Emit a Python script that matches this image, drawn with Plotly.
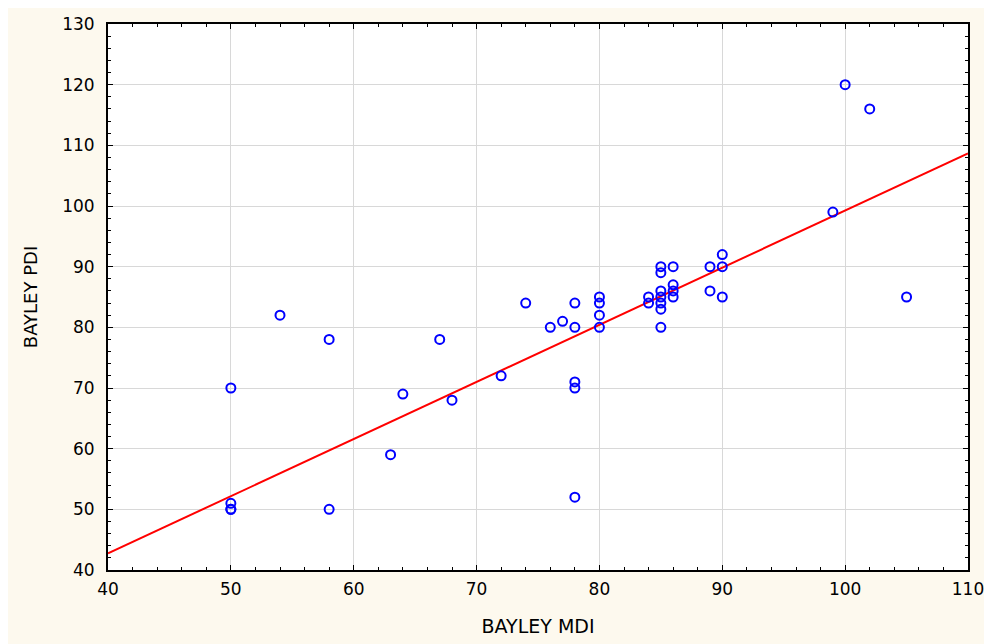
import plotly.graph_objects as go

# Data (BAYLEY MDI vs BAYLEY PDI)
mdi = [50, 50, 50, 50, 54, 58, 58, 63, 64, 67, 68, 72, 74, 76, 77,
       78, 78, 78, 78, 78, 80, 80, 80, 80, 84, 84,
       85, 85, 85, 85, 85, 85, 85, 86, 86, 86, 86, 89, 89,
       90, 90, 90, 99, 100, 102, 105]
pdi = [70, 51, 50, 50, 82, 78, 50, 59, 69, 78, 68, 72, 84, 80, 81,
       84, 80, 71, 70, 52, 85, 84, 82, 80, 85, 84,
       90, 89, 86, 85, 84, 83, 80, 90, 87, 86, 85, 90, 86,
       92, 90, 85, 99, 120, 116, 85]

# Regression line coefficients
fit_intercept = 5.08
fit_slope = 0.9417
fit_x = [40, 110]
fit_y = [fit_intercept + fit_slope * v for v in fit_x]

x_range = [40, 110]
y_range = [40, 130]

cream = "#FDF9EE"

fig = go.Figure()
fig.add_trace(go.Scatter(
    x=fit_x, y=fit_y, mode="lines",
    line=dict(color="#FF0000", width=2),
    showlegend=False, hoverinfo="skip"))
fig.add_trace(go.Scatter(
    x=mdi, y=pdi, mode="markers",
    marker=dict(symbol="circle-open", size=9, color="#0000FF",
                line=dict(width=2, color="#0000FF")),
    showlegend=False))

axis_common = dict(
    showline=True, linecolor="black", linewidth=2, mirror="allticks",
    ticks="inside", ticklen=5, tickwidth=1, tickcolor="black",
    showgrid=True, gridcolor="#D8D8D8", gridwidth=1,
    zeroline=False,
    tickfont=dict(family="DejaVu Sans", size=17, color="black"),
)

fig.update_xaxes(
    range=x_range, dtick=10, tick0=40,
    minor=dict(dtick=2, ticks="inside", ticklen=3, tickcolor="black", showgrid=False),
    title=dict(text="BAYLEY MDI", font=dict(family="DejaVu Sans", size=19, color="black"),
               standoff=21),
    ticklabelstandoff=3,
    **axis_common)
fig.update_yaxes(
    range=y_range, dtick=10, tick0=40,
    minor=dict(dtick=2, ticks="inside", ticklen=3, tickcolor="black", showgrid=False),
    title=dict(text="BAYLEY PDI", font=dict(family="DejaVu Sans", size=18, color="black"),
               standoff=20),
    ticklabelstandoff=8,
    **axis_common)

fig.update_layout(
    width=992, height=644,
    margin=dict(l=100, r=32, t=16, b=82, autoexpand=False),
    paper_bgcolor=cream, plot_bgcolor="white",
    font=dict(family="DejaVu Sans", color="black"),
)

fig.write_html("out.html")
